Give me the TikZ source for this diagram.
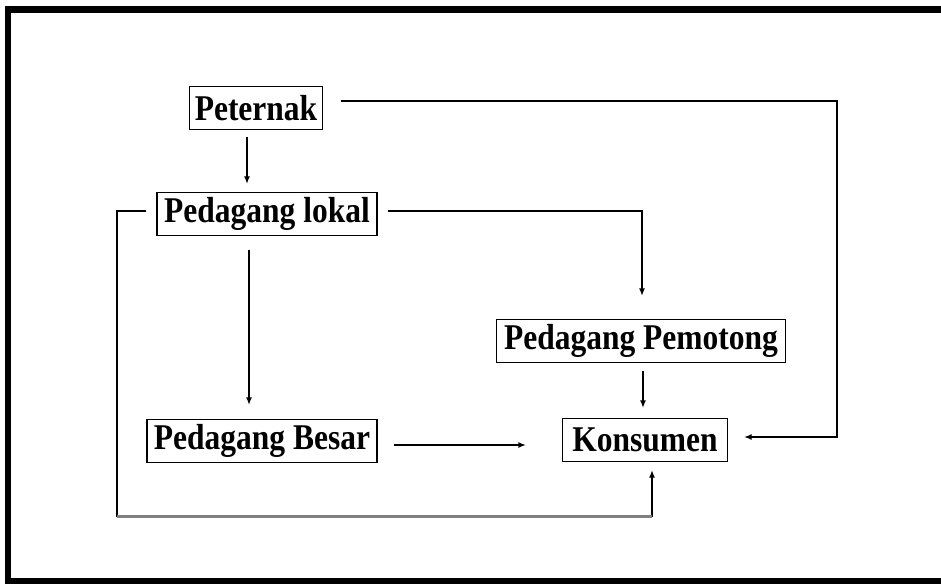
\documentclass[tikz,border=0pt]{standalone}
\usepackage{fontspec}
\setmainfont{Liberation Serif}
\usepackage{tikz}
\usetikzlibrary{arrows.meta}
\usepackage{xcolor}
\definecolor{FrameBlack}{RGB}{0,0,0}
\definecolor{LoopGray}{RGB}{128,128,128}
\newcommand{\tallbox}[1]{\scalebox{1}[1.15]{#1}}

\begin{document}
\begin{tikzpicture}[
x=1pt,y=-1pt,
box/.style={rectangle,draw=black,line width=1.3pt,fill=white,inner xsep=5pt,
minimum height=43pt,align=center,font=\fontsize{31.5}{36}\selectfont\bfseries},
arrow/.style={-{Latex[length=7.5pt,width=6pt]},line width=1.3pt,draw=black}
]
\useasboundingbox (0,0) rectangle (941,585);
% outer frame
\draw[FrameBlack,line width=6pt] (8,6) -- (8,584);
\draw[FrameBlack,line width=7pt] (5,10) -- (941,10);
\draw[FrameBlack,line width=6pt] (5,581) -- (941,581);
% nodes
\node[box] (peternak) at (256,108) {\tallbox{Peternak}};
\node[box,minimum width=220pt] (lokal) at (267,214) {\tallbox{Pedagang lokal}};
\node[box,minimum width=289pt] (pemotong) at (641,341) {\tallbox{Pedagang Pemotong}};
\node[box,minimum width=230pt] (besar) at (262,441) {\tallbox{Pedagang Besar}};
\node[box,minimum width=165pt] (konsumen) at (645,440) {\tallbox{Konsumen}};
\coordinate (right) at (837,270);
\coordinate (left) at (117,516);
% connectors
\draw[arrow,shorten <=7pt,shorten >=8pt] (peternak.south -| 247,0) -- (lokal.north -| 247,0);
\draw[arrow,shorten <=10pt,shorten >=23pt] ([yshift=3pt]lokal.east) -| (pemotong.north -| 642,0);
\draw[arrow,shorten <=14pt,shorten >=14pt] (lokal.south -| 249,0) -- (besar.north -| 249,0);
\draw[arrow,shorten <=16pt,shorten >=36pt] ([yshift=-4pt]besar.east) -- ([yshift=-4pt]besar.east -| konsumen.west);
\draw[arrow,shorten <=8pt,shorten >=10pt] (pemotong.south -| 643,0) -- (konsumen.north -| 643,0);
\draw[arrow,shorten <=18pt,shorten >=16pt] ([yshift=7pt]peternak.east) -| (right) |- ([yshift=3pt]konsumen.east);
\draw[arrow,shorten <=10pt,shorten >=8pt] ([yshift=3pt]lokal.west) -| (left) -| (konsumen.south -| 652,0);
\draw[LoopGray,line width=3pt] (left) -- (left -| 652,0);
\end{tikzpicture}
\end{document}
